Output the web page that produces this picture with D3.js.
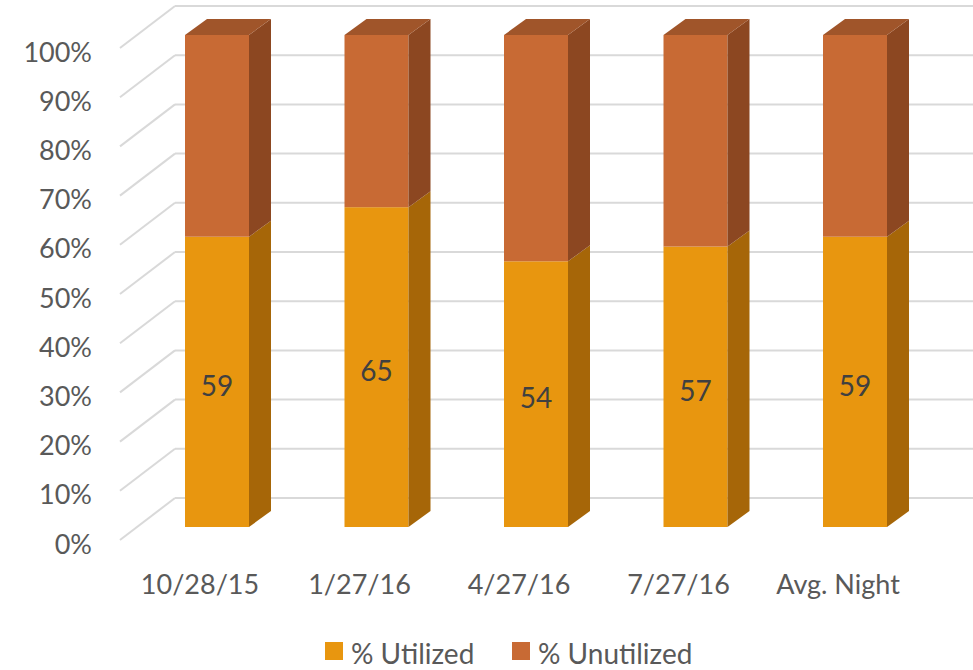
<!DOCTYPE html>
<html><head><meta charset="utf-8">
<script src="https://cdn.jsdelivr.net/npm/d3@7/dist/d3.min.js"></script>
<style>body{margin:0;background:#fff}svg{display:block}text{font-family:Lato,"Open Sans",sans-serif}</style>
</head><body><svg id="c" width="973" height="670"></svg>
<script>
const categories = ["10/28/15","1/27/16","4/27/16","7/27/16","Avg. Night"];
const utilized = [59,65,54,57,59];
const unutilized = [41,35,46,43,41];
const tickValues = [0,10,20,30,40,50,60,70,80,90,100];
const seriesNames = ["% Utilized","% Unutilized"];

const svg = d3.select("#c");
const W=973;
const yBack = d3.scaleLinear().domain([0,100]).range([498,6]);
const floorDx=-55, floorDy=42;
const barDy=29;
const sideDx=22, sideDy=-16;
const x = d3.scalePoint().domain(categories).range([217,855]);
const bw=64;
const yBar = v => yBack(v)+barDy;

const colors = {
  u:{front:"#E8960F",side:"#A66608",top:"#C07C0C"},
  n:{front:"#C86A34",side:"#8C4721",top:"#A0552A"}
};

const g = svg.append("g");
tickValues.forEach(t=>{
  const yb=yBack(t);
  g.append("line").attr("x1",175).attr("x2",W).attr("y1",yb).attr("y2",yb)
   .attr("stroke","#d9d9d9").attr("stroke-width",2);
  g.append("line").attr("x1",175).attr("y1",yb).attr("x2",175+floorDx).attr("y2",yb+floorDy)
   .attr("stroke","#d9d9d9").attr("stroke-width",2);
  g.append("text").attr("x",92).attr("y",yb+floorDy+3).attr("text-anchor","end")
   .attr("dominant-baseline","central").attr("font-size",27).attr("fill","#595959")
   .text(t+"%");
});

categories.forEach((c,i)=>{
  const x0=x(c)-bw/2, x1=x(c)+bw/2;
  const segs=[{lo:0,hi:utilized[i],col:colors.u},{lo:utilized[i],hi:utilized[i]+unutilized[i],col:colors.n}];
  const bg=svg.append("g");
  segs.forEach((s,k)=>{
    const yt=yBar(s.hi), yb=yBar(s.lo);
    bg.append("rect").attr("x",x0).attr("y",yt).attr("width",bw).attr("height",yb-yt).attr("fill",s.col.front);
    bg.append("path").attr("d",`M${x1},${yb}L${x1+sideDx},${yb+sideDy}L${x1+sideDx},${yt+sideDy}L${x1},${yt}Z`)
      .attr("fill",s.col.side);
    if(k===segs.length-1){
      bg.append("path").attr("d",`M${x0},${yt}L${x0+sideDx},${yt+sideDy}L${x1+sideDx},${yt+sideDy}L${x1},${yt}Z`)
        .attr("fill",s.col.top);
    }
  });
  bg.append("text").attr("x",x(c)).attr("y",(yBar(0)+yBar(utilized[i]))/2+3)
    .attr("text-anchor","middle").attr("dominant-baseline","central")
    .attr("font-size",28).attr("fill","#404040").text(utilized[i]);
  svg.append("text").attr("x",x(c)-17).attr("y",583).attr("text-anchor","middle")
    .attr("dominant-baseline","central").attr("font-size",27).attr("fill","#595959").text(c);
});

const leg=[{x:325,col:colors.u.front},{x:512,col:colors.n.front}];
leg.forEach((l,i)=>{
  svg.append("rect").attr("x",l.x).attr("y",642).attr("width",18).attr("height",18).attr("fill",l.col);
  svg.append("text").attr("x",l.x+26).attr("y",653).attr("dominant-baseline","central")
    .attr("font-size",28).attr("fill","#595959").text(seriesNames[i]);
});
</script></body></html>
